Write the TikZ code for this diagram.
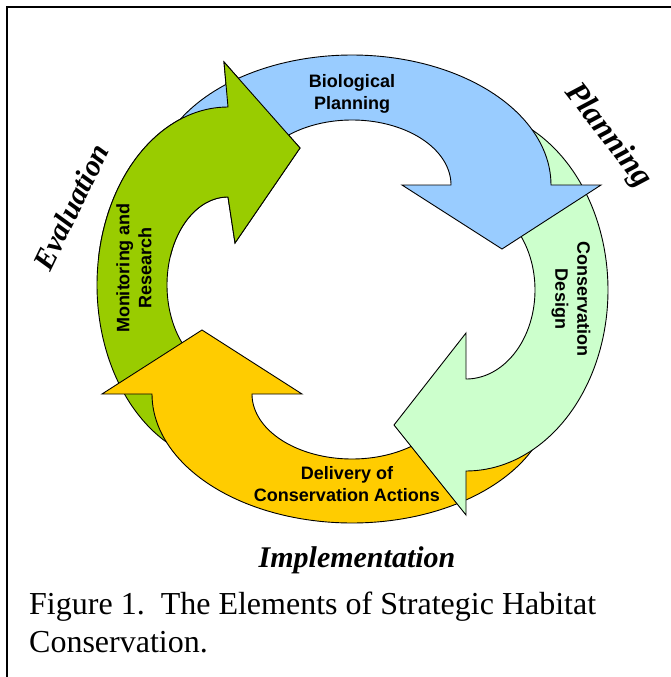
\documentclass[tikz,border=0pt]{standalone}
\usepackage{fontspec}
\setmainfont{Liberation Serif}
\setsansfont{Liberation Sans}
\definecolor{bluef}{HTML}{99CCFF}
\definecolor{lgf}{HTML}{CCFFCC}
\definecolor{yelf}{HTML}{FFCC00}
\definecolor{dgf}{HTML}{99CC00}
\begin{document}
\begin{tikzpicture}[x=1pt,y=-1pt,
  arrowshape/.style={draw=black,line width=0.9pt,line join=miter},
  lbl/.style={font=\sffamily\bfseries\fontsize{18}{22}\selectfont,align=center,inner sep=0pt},
  phase/.style={font=\rmfamily\bfseries\itshape\fontsize{30}{36}\selectfont,inner sep=0pt},
  caption/.style={font=\rmfamily\fontsize{32}{38}\selectfont,align=left,inner sep=0pt}]
\useasboundingbox (0,0) rectangle (671,677);
\fill[white] (0,0) rectangle (671,677);
% frame
\draw[line width=1.6pt] (7,680) -- (7,7) -- (675,7);
% Monitoring and Research (dark green)
\def\dgpath{plot[domain=90:270,samples=90] ({228+131*cos(\x)},{285+178*sin(\x)}) -- (224,62) -- (300,148) -- (235,243) -- plot[domain=270:90,samples=90] ({228+61*cos(\x)},{285+88*sin(\x)}) -- cycle}
\path[arrowshape,fill=dgf] \dgpath;
% Delivery (yellow)
\path[arrowshape,fill=yelf] plot[domain=0:180,samples=90] ({352+200*cos(\x)},{394+129*sin(\x)}) -- (102,394) -- (202,330) -- (302,394) -- plot[domain=180:0,samples=90] ({352+100*cos(\x)},{394+65*sin(\x)}) -- cycle;
% Conservation Design (light green)
\path[arrowshape,fill=lgf] plot[domain=270:450,samples=90] ({466+142*cos(\x)},{290+181*sin(\x)}) -- (466,515) -- (394,425) -- (466,333) -- plot[domain=450:270,samples=90] ({466+69*cos(\x)},{290+89*sin(\x)}) -- cycle;
% Biological Planning (blue)
\path[arrowshape,fill=bluef] plot[domain=180:360,samples=90] ({352+199*cos(\x)},{185+130*sin(\x)}) -- (601,185) -- (502,249) -- (402,185) -- (451,185) -- plot[domain=360:180,samples=90] ({352+99*cos(\x)},{185+65*sin(\x)}) -- cycle;
% dark green head over blue tail
\begin{scope}
\clip (0,0) rectangle (330,255);
\path[arrowshape,fill=dgf] \dgpath;
\end{scope}
% labels
\node[lbl] (bio) at (352,94) {Biological\\Planning};
\node[lbl,rotate=-90] (des) at (571,299) {Conservation\\Design};
\node[lbl,rotate=90] (mon) at (134,268) {Monitoring and\\Research};
\node[lbl] (del) at (347,484) {Delivery of\\Conservation Actions};
\node[phase,rotate=64] (eva) at (71,207) {Evaluation};
\node[phase,rotate=-52,font=\rmfamily\bfseries\itshape\fontsize{32}{38}\selectfont] (pla) at (608,136) {Planning};
\node[phase,anchor=base] (imp) at (357,567) {Implementation};
\node[caption,anchor=base west] (cap) at (29,614) {Figure 1.\hspace{0.5em}The Elements of Strategic Habitat};
\node[caption,anchor=base west] (cap2) at (29,652) {Conservation.};
\end{tikzpicture}
\end{document}
